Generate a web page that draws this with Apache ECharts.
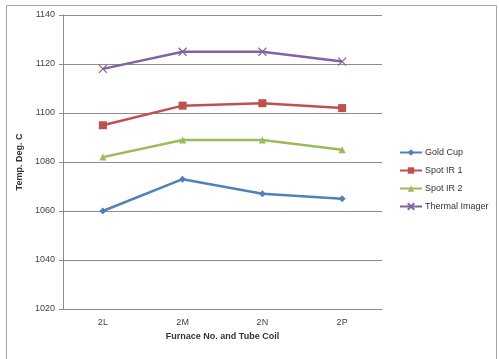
<!DOCTYPE html>
<html><head><meta charset="utf-8">
<script src="https://cdn.jsdelivr.net/npm/echarts@6/dist/echarts.min.js"></script>
<style>html,body{margin:0;padding:0;background:#fff}#c{width:499px;height:359px}</style>
</head><body><div id="c"></div>
<script>
var categories = ['2L', '2M', '2N', '2P'];
var goldCup = [1060, 1073, 1067, 1065];
var spotIR1 = [1095, 1103, 1104, 1102];
var spotIR2 = [1082, 1089, 1089, 1085];
var thermalImager = [1118, 1125, 1125, 1121];
var seriesNames = ['Gold Cup', 'Spot IR 1', 'Spot IR 2', 'Thermal Imager'];
var yTicks = [1020, 1040, 1060, 1080, 1100, 1120, 1140];

var colors = ['#4F81BD', '#C0504D', '#9BBB59', '#8064A2'];
var symbols = ['diamond', 'rect', 'triangle', 'path://M0,0L10,10M10,0L0,10'];
var sizes = [7, 8, 7, 8];
var datas = [goldCup, spotIR1, spotIR2, thermalImager];

var chart = echarts.init(document.getElementById('c'), null, {renderer: 'canvas'});
var series = seriesNames.map(function (n, i) {
  return {
    name: n, type: 'line', data: datas[i],
    symbol: symbols[i], symbolSize: sizes[i],
    lineStyle: {color: colors[i], width: 2.5},
    itemStyle: i === 3 ? {color: 'rgba(0,0,0,0)', borderColor: colors[i], borderWidth: 1.2} : {color: colors[i]},
    emphasis: {disabled: true},
    animation: false
  };
});
chart.setOption({
  animation: false,
  textStyle: {fontFamily: 'Liberation Sans, Arial, sans-serif'},
  graphic: [{type: 'rect', left: 4, top: 3, shape: {width: 490, height: 354}, style: {fill: 'none', stroke: '#a6a6a6', lineWidth: 1}}],
  grid: {left: 63, right: 117, top: 15, bottom: 50},
  legend: {
    orient: 'vertical', left: 394, top: 143, itemGap: 9,
    itemWidth: 22, itemHeight: 8,
    data: seriesNames,
    textStyle: {fontSize: 9, color: '#333', padding: [0, 0, 0, -2]}
  },
  xAxis: {
    type: 'category', data: categories,
    name: 'Furnace No. and Tube Coil', nameLocation: 'middle', nameGap: 23,
    nameTextStyle: {fontSize: 9, fontWeight: 'bold', color: '#333'},
    axisLine: {lineStyle: {color: '#8c8c8c'}},
    axisTick: {lineStyle: {color: '#8c8c8c'}, length: 4},
    axisLabel: {fontSize: 9, color: '#444', margin: 9}
  },
  yAxis: {
    type: 'value', min: yTicks[0], max: yTicks[yTicks.length - 1], interval: 20,
    name: 'Temp. Deg. C', nameLocation: 'middle', nameGap: 33, nameRotate: 90,
    nameTextStyle: {fontSize: 9, fontWeight: 'bold', color: '#333'},
    axisLine: {show: true, lineStyle: {color: '#8c8c8c'}},
    axisTick: {show: true, lineStyle: {color: '#8c8c8c'}, length: 4},
    axisLabel: {fontSize: 9, color: '#444', margin: 8, formatter: function (v) { return String(v); }},
    splitLine: {lineStyle: {color: '#8c8c8c', width: 1}}
  },
  series: series
});
</script></body></html>
